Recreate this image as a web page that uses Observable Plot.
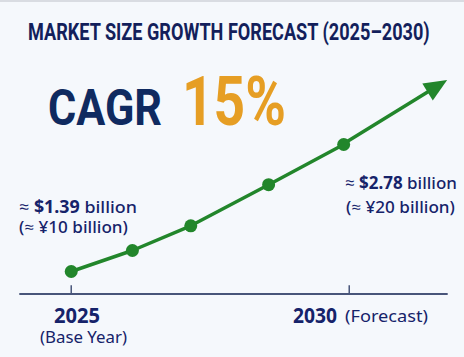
<!DOCTYPE html>
<html><head><meta charset="utf-8">
<script src="https://cdn.jsdelivr.net/npm/d3@7"></script>
<script src="https://cdn.jsdelivr.net/npm/@observablehq/plot@0.6"></script>
<style>
html,body{margin:0;padding:0;background:#f5f8fc;}
#wrap{position:relative;width:464px;height:357px;overflow:hidden;}
#topline{position:absolute;left:0;top:0;width:464px;height:2px;background:#d9dce2;}
svg{display:block;}
</style></head><body>
<div id="wrap"><div id="chart"></div><div id="topline"></div></div>
<script>
// ---- data ----
const years = [2025, 2026.1, 2027.15, 2028.55, 2029.9];
const values = [1.39, 1.62, 1.89, 2.34, 2.78];
const arrowYear = 2031.77;
const arrowValue = 3.48;
const axisBase = 1.144;
const tickYears = [2025, 2030];
const tickLabels = ["2025", "2030"];
const tickNotes = ["(Base Year)", "(Forecast)"];
const titleText = "MARKET SIZE GROWTH FORECAST (2025\u20132030)";
const cagrLabel = "CAGR";
const cagrValue = "15%";
const startUsd = "$1.39", startCny = "(\u2248 \u00a510 billion)";
const endUsd = "$2.78", endCny = "(\u2248 \u00a520 billion)";

const data = years.map((y, i) => ({year: y, value: values[i]}));
const green = "#22862b";
const navy = "#16236a";

const arrowMark = (index, scales) => {
  const x = scales.x, y = scales.y;
  const last = data[data.length - 1];
  const x0 = x(last.year), y0 = y(last.value);
  const x1 = x(arrowYear), y1 = y(arrowValue);
  const dx = x1 - x0, dy = y1 - y0, len = Math.hypot(dx, dy);
  const ux = dx / len, uy = dy / len;
  const head = 23, half = 10;
  const bx = x1 - ux * head, by = y1 - uy * head;
  const g = d3.create("svg:g");
  g.append("line").attr("x1", x0).attr("y1", y0).attr("x2", bx + ux * 2).attr("y2", by + uy * 2)
    .attr("stroke", green).attr("stroke-width", 3.5);
  g.append("path")
    .attr("d", `M${x1},${y1}L${bx - uy * half},${by + ux * half}L${bx + uy * half},${by - ux * half}Z`)
    .attr("fill", green);
  return g.node();
};

const chart = Plot.plot({
  width: 464, height: 357,
  marginLeft: 19.3, marginRight: 16.3, marginTop: 80, marginBottom: 63.5,
  style: {background: "transparent", overflow: "visible"},
  x: {domain: [2024.075, 2031.78], axis: null},
  y: {domain: [axisBase, arrowValue], axis: null},
  marks: [
    Plot.ruleY([axisBase], {stroke: "#48557a", strokeWidth: 2}),
    Plot.ruleX(tickYears, {y1: axisBase, y2: axisBase + 0.09, stroke: "#48557a", strokeWidth: 1.5}),
    Plot.line(data, {x: "year", y: "value", stroke: green, strokeWidth: 3.5}),
    arrowMark,
    Plot.dot(data, {x: "year", y: "value", r: 6.5, fill: green})
  ]
});
document.getElementById("chart").appendChild(chart);

const sx = chart.scale("x");
const layer = d3.select(chart).append("g").attr("text-anchor", "start");
function addText({x, y, size, family, fill, length, parts}) {
  const t = layer.append("text").attr("x", 0).attr("y", 0).attr("text-anchor", "start")
    .attr("font-family", family).attr("font-size", size).attr("fill", fill);
  parts.forEach(([s, w]) => t.append("tspan").attr("font-weight", w).text(s));
  const natural = t.node().getComputedTextLength() || length;
  const k = length / natural;
  t.attr("transform", `translate(${x},${y}) scale(${k},1)`);
}
const sans = "'Noto Sans', 'Open Sans', sans-serif";
addText({x: 28, y: 39.5, size: 24.5, family: "Roboto, sans-serif", fill: "#131f5b", length: 402, parts: [[titleText, 700]]});
addText({x: 48, y: 125, size: 50, family: "Roboto, sans-serif", fill: "#0f2a60", length: 114, parts: [[cagrLabel, 700]]});
addText({x: 182, y: 125, size: 68, family: "Roboto, sans-serif", fill: "#e69e24", length: 104, parts: [[cagrValue, 700]]});

addText({x: 19, y: 213, size: 17, family: sans, fill: navy, length: 118, parts: [["\u2248 ", 500], [startUsd, 700], [" billion", 500]]});
addText({x: 19, y: 233.3, size: 16.5, family: sans, fill: navy, length: 109, parts: [[startCny, 500]]});
addText({x: 345, y: 189.3, size: 17, family: sans, fill: navy, length: 112, parts: [["\u2248 ", 500], [endUsd, 700], [" billion", 500]]});
addText({x: 346, y: 213.3, size: 16.5, family: sans, fill: navy, length: 109, parts: [[endCny, 500]]});

// axis labels placed from the x scale
const x25 = sx.apply(tickYears[0]), x30 = sx.apply(tickYears[1]);
addText({x: x25 - 16.7, y: 323.3, size: 21.5, family: sans, fill: navy, length: 46, parts: [[tickLabels[0], 700]]});
addText({x: x25 - 30.7, y: 343.3, size: 16, family: sans, fill: navy, length: 87, parts: [[tickNotes[0], 400]]});
addText({x: x30 - 55.7, y: 323.3, size: 21.5, family: sans, fill: navy, length: 44, parts: [[tickLabels[1], 700]]});
addText({x: x30 - 3.7, y: 322.3, size: 17, family: sans, fill: navy, length: 83, parts: [[tickNotes[1], 400]]});
</script>
</body></html>
